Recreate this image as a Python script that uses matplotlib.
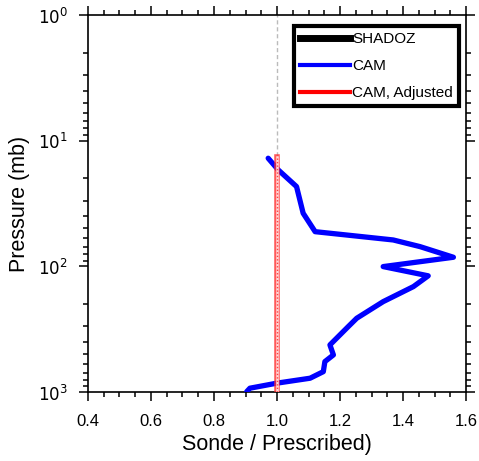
import matplotlib.pyplot as plt
from matplotlib.lines import Line2D
from matplotlib.ticker import MultipleLocator, LogLocator, NullFormatter

plt.rcParams['font.family'] = ['Liberation Sans', 'DejaVu Sans']

# CAM ratio profile (sonde / prescribed) vs pressure
cam_ratio = [0.904, 0.914, 0.999, 1.105, 1.147, 1.152, 1.179, 1.168, 1.226,
             1.253, 1.337, 1.433, 1.480, 1.337, 1.560, 1.454, 1.369, 1.121,
             1.083, 1.062, 1.004, 0.972]
cam_pres = [993, 933, 851, 777, 689, 573, 507, 422, 302,
            259, 191, 145, 119, 100.5, 84.7, 69.7, 61.7, 53,
            37.8, 23.2, 17.1, 13.8]

# adjusted CAM collapses onto 1.0
adj_ratio = [1.0, 1.0]
adj_pres = [1000, 13.5]

fig = plt.figure(figsize=(4.79, 4.61), dpi=100)
ax = fig.add_axes([0.1837, 0.1497, 0.7892, 0.8178])

ax.axvline(1.0, color='#bbbbbb', lw=1.0, ls=(0, (3, 2)), zorder=1)
ax.plot(cam_ratio, cam_pres, color='#0000ff', lw=3.8, solid_capstyle='round', zorder=3)
# red line drawn as outline with a light dotted core
ax.plot(adj_ratio, adj_pres, color='#ff3030', lw=4.0, alpha=0.8, zorder=4)
ax.plot(adj_ratio, adj_pres, color='#ffdddd', lw=1.8, zorder=5)
ax.plot(adj_ratio, adj_pres, color='#ff4040', lw=1.0, ls=(0, (1, 1.5)), zorder=6)

ax.set_yscale('log')
ax.set_ylim(1000, 1)
ax.set_xlim(0.4, 1.6)
ax.xaxis.set_major_locator(MultipleLocator(0.2))
ax.xaxis.set_minor_locator(MultipleLocator(0.05))
ax.yaxis.set_minor_locator(LogLocator(base=10, subs=range(2, 10), numticks=10))
ax.yaxis.set_minor_formatter(NullFormatter())
ax.set_yticks([1, 10, 100, 1000])
ax.set_yticklabels(['$10^{0}$', '$10^{1}$', '$10^{2}$', '$10^{3}$'])
ax.set_xticks([0.4, 0.6, 0.8, 1.0, 1.2, 1.4, 1.6])
ax.set_xticklabels(['0.4', '0.6', '0.8', '1.0', '1.2', '1.4', '1.6'])

ax.tick_params(which='both', direction='out', top=True, right=True,
               labelsize=12, width=1.1)
ax.tick_params(which='major', length=6.5)
ax.tick_params(axis='x', which='major', pad=9)
ax.tick_params(axis='y', which='major', pad=8)
ax.tick_params(which='minor', length=3.5)
for sp in ax.spines.values():
    sp.set_linewidth(1.2)

ax.set_xlabel('Sonde / Prescribed)', fontsize=15.5, labelpad=4)
ax.set_ylabel('Pressure (mb)', fontsize=15.5, labelpad=6)

handles = [Line2D([], [], color='black', lw=5),
           Line2D([], [], color='#0000ff', lw=3),
           Line2D([], [], color='#ff0000', lw=3)]
leg = ax.legend(handles, ['SHADOZ', 'CAM', 'CAM, Adjusted'], loc='upper right',
                bbox_to_anchor=(0.981, 0.971), fontsize=11, frameon=True,
                fancybox=False, framealpha=1, handlelength=3.3,
                handletextpad=0.1, borderpad=0.4, labelspacing=0.85,
                borderaxespad=0)
leg.get_frame().set_edgecolor('black')
leg.get_frame().set_linewidth(3)

fig.savefig('out.png', dpi=100)
